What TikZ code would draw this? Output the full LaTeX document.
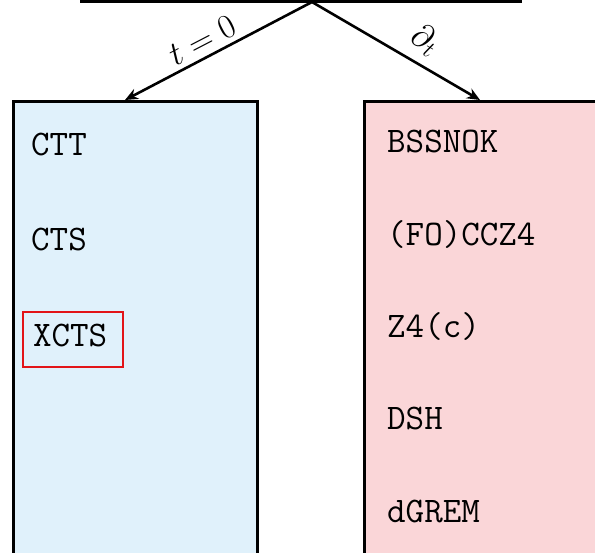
\RequirePackage{fix-cm}
\documentclass[tikz,border=0pt]{standalone}
\usetikzlibrary{arrows.meta}
\definecolor{initblue}{RGB}{224,241,251}
\definecolor{evolpink}{RGB}{250,214,216}
\definecolor{boxred}{RGB}{226,20,24}
\begin{document}
\begin{tikzpicture}[x=1pt,y=-1pt,
  frame/.style={draw=black,line width=2.6pt,anchor=north west,inner sep=0pt,
    minimum width=#1,minimum height=480},
  entry/.style={anchor=base west,inner sep=0pt,font=\fontsize{36}{40}\selectfont\ttfamily},
  branch/.style={line width=2.6pt,-{Stealth[length=13pt,width=11pt]}},
  lbl/.style={inner sep=0pt,font=\fontsize{34}{40}\selectfont}]
\useasboundingbox (0,0) rectangle (595,553);

% formulation boxes
\node[frame=244,fill=initblue] (init) at (12,100) {};
\node[frame=260,fill=evolpink] (evol) at (363,100) {};

% splitting line and branches
\coordinate (barL) at (80,0);
\coordinate (barR) at (522,0);
\coordinate (apex) at (312,2);
\coordinate (tipL) at (125,100);
\coordinate (tipR) at (480,100);
\draw[line width=6pt] (barL) -- (barR);
\draw[branch] (apex) -- (tipL);
\draw[branch] (apex) -- (tipR);
\node[lbl,rotate=27.4] (tlab) at (202,40) {$t=0$};
\node[lbl,rotate=-30] (dlab) at (425,40) {$\partial_t$};

% initial-data formulations
\node[entry] (ctt) at (31,156) {CTT};
\node[entry] (cts) at (31,251) {CTS};
\node[entry,draw=boxred,line width=2.2pt,text height=22pt,text depth=7pt,
      inner xsep=10pt,inner ysep=13pt] (xcts) at (22,347) {XCTS\kern6pt};

% evolution formulations
\node[entry] (bssnok) at (387,153) {BSSNOK};
\node[entry] (ccz) at (387,246) {(FO)CCZ4};
\node[entry] (zfour) at (387,338) {Z4(c)};
\node[entry] (dsh) at (387,430) {DSH};
\node[entry] (dgrem) at (387,522) {dGREM};
\end{tikzpicture}
\end{document}
